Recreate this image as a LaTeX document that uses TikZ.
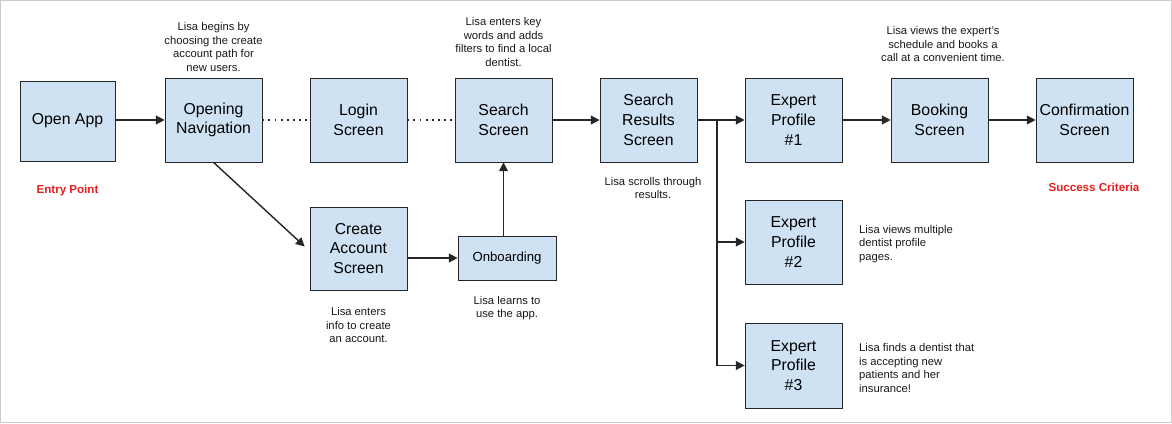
\documentclass[tikz,border=0pt]{standalone}
\usepackage{fontspec}
\setmainfont{Liberation Sans}
\usetikzlibrary{arrows.meta, calc}

\begin{document}
\begin{tikzpicture}[x=0.02cm, y=-0.02cm,
    screen/.style={draw=black!85, fill={rgb,255:red,207;green,226;blue,243},
        minimum width=1.94cm, minimum height=1.68cm, align=center, font=\fontsize{9}{11.2}\selectfont, inner sep=1pt},
    note/.style={align=center, font=\fontsize{6.4}{7.6}\selectfont, text=black!90},
    goal/.style={text={rgb,255:red,230;green,30;blue,30}, font=\fontsize{6.6}{8}\selectfont\bfseries},
    flow/.style={-{Triangle[length=5pt,width=5pt]}, thick, black!85},
    skip/.style={thick, dash pattern=on 1pt off 2.5pt, black!85}]
        % Frame of the picture
        \useasboundingbox (0,0) rectangle (1172,423);
        \draw[black!20] (0.5,0.5) rectangle (1171.5,422.5);

        % Main row of screens
        \node[screen, minimum width=1.9cm, minimum height=1.6cm] (open) at (67.5,121) {Open App};
        \node[screen] (nav) at (213.5,120) {Opening\\Navigation};
        \node[screen] (login) at (358.5,120) {Login\\Screen};
        \node[screen] (search) at (503.5,120) {Search\\Screen};
        \node[screen] (results) at (648.5,120) {Search\\Results\\Screen};
        \node[screen] (expert1) at (793.5,120) {Expert\\Profile\\\#1};
        \node[screen] (booking) at (939.5,120) {Booking\\Screen};
        \node[screen] (confirm) at (1084.5,120) {Confirmation\\Screen};

        % Lower screens
        \node[screen, minimum height=1.66cm] (create) at (358.5,248.5) {Create\\Account\\Screen};
        \node[screen, minimum width=1.96cm, minimum height=0.88cm, font=\fontsize{7.5}{9}\selectfont] (onboard) at (507,258) {Onboarding};
        \node[screen] (expert2) at (793.5,242) {Expert\\Profile\\\#2};
        \node[screen, minimum height=1.7cm] (expert3) at (793.5,365.5) {Expert\\Profile\\\#3};

        % Notes
        \node[note] (n1) at (213.5,47) {Lisa begins by\\choosing the create\\account path for\\new users.};
        \node[note] (n2) at (503.5,42) {Lisa enters key\\words and adds\\filters to find a local\\dentist.};
        \node[note] (n3) at (943,44) {Lisa views the expert's\\schedule and books a\\call at a convenient time.};
        \node[note] (n4) at (653,188) {Lisa scrolls through\\results.};
        \node[note] (n5) at (358.5,325) {Lisa enters\\info to create\\an account.};
        \node[note] (n6) at (507,308) {Lisa learns to\\use the app.};
        \node[note, align=left, anchor=west] (n7) at (853,244) {Lisa views multiple\\dentist profile\\pages.};
        \node[note, align=left, anchor=west] (n8) at (853,368) {Lisa finds a dentist that\\is accepting new\\patients and her\\insurance!};
        \node[goal] (entry) at (67.5,190) {Entry Point};
        \node[goal] (success) at (1094,187) {Success Criteria};

        % Connectors
        \draw[flow] (open.east |- nav) -- (nav);
        \draw[skip] (nav) -- (login);
        \draw[skip] (login) -- (search);
        \draw[flow] (search) -- (results);
        \draw[flow] (results) -- (expert1);
        \draw[flow] (expert1) -- (booking);
        \draw[flow] (booking) -- (confirm);
        \draw[flow] (nav.south) -- ([shift={(-5,-2)}]create.west);
        \draw[flow] (create.east |- onboard) -- (onboard);
        \draw[flow] (onboard.north -| search) -- (search);
        \coordinate (fork) at (717,120);
        \draw[flow] (fork) |- (expert2);
        \draw[flow] (fork) |- (expert3);
\end{tikzpicture}
\end{document}
